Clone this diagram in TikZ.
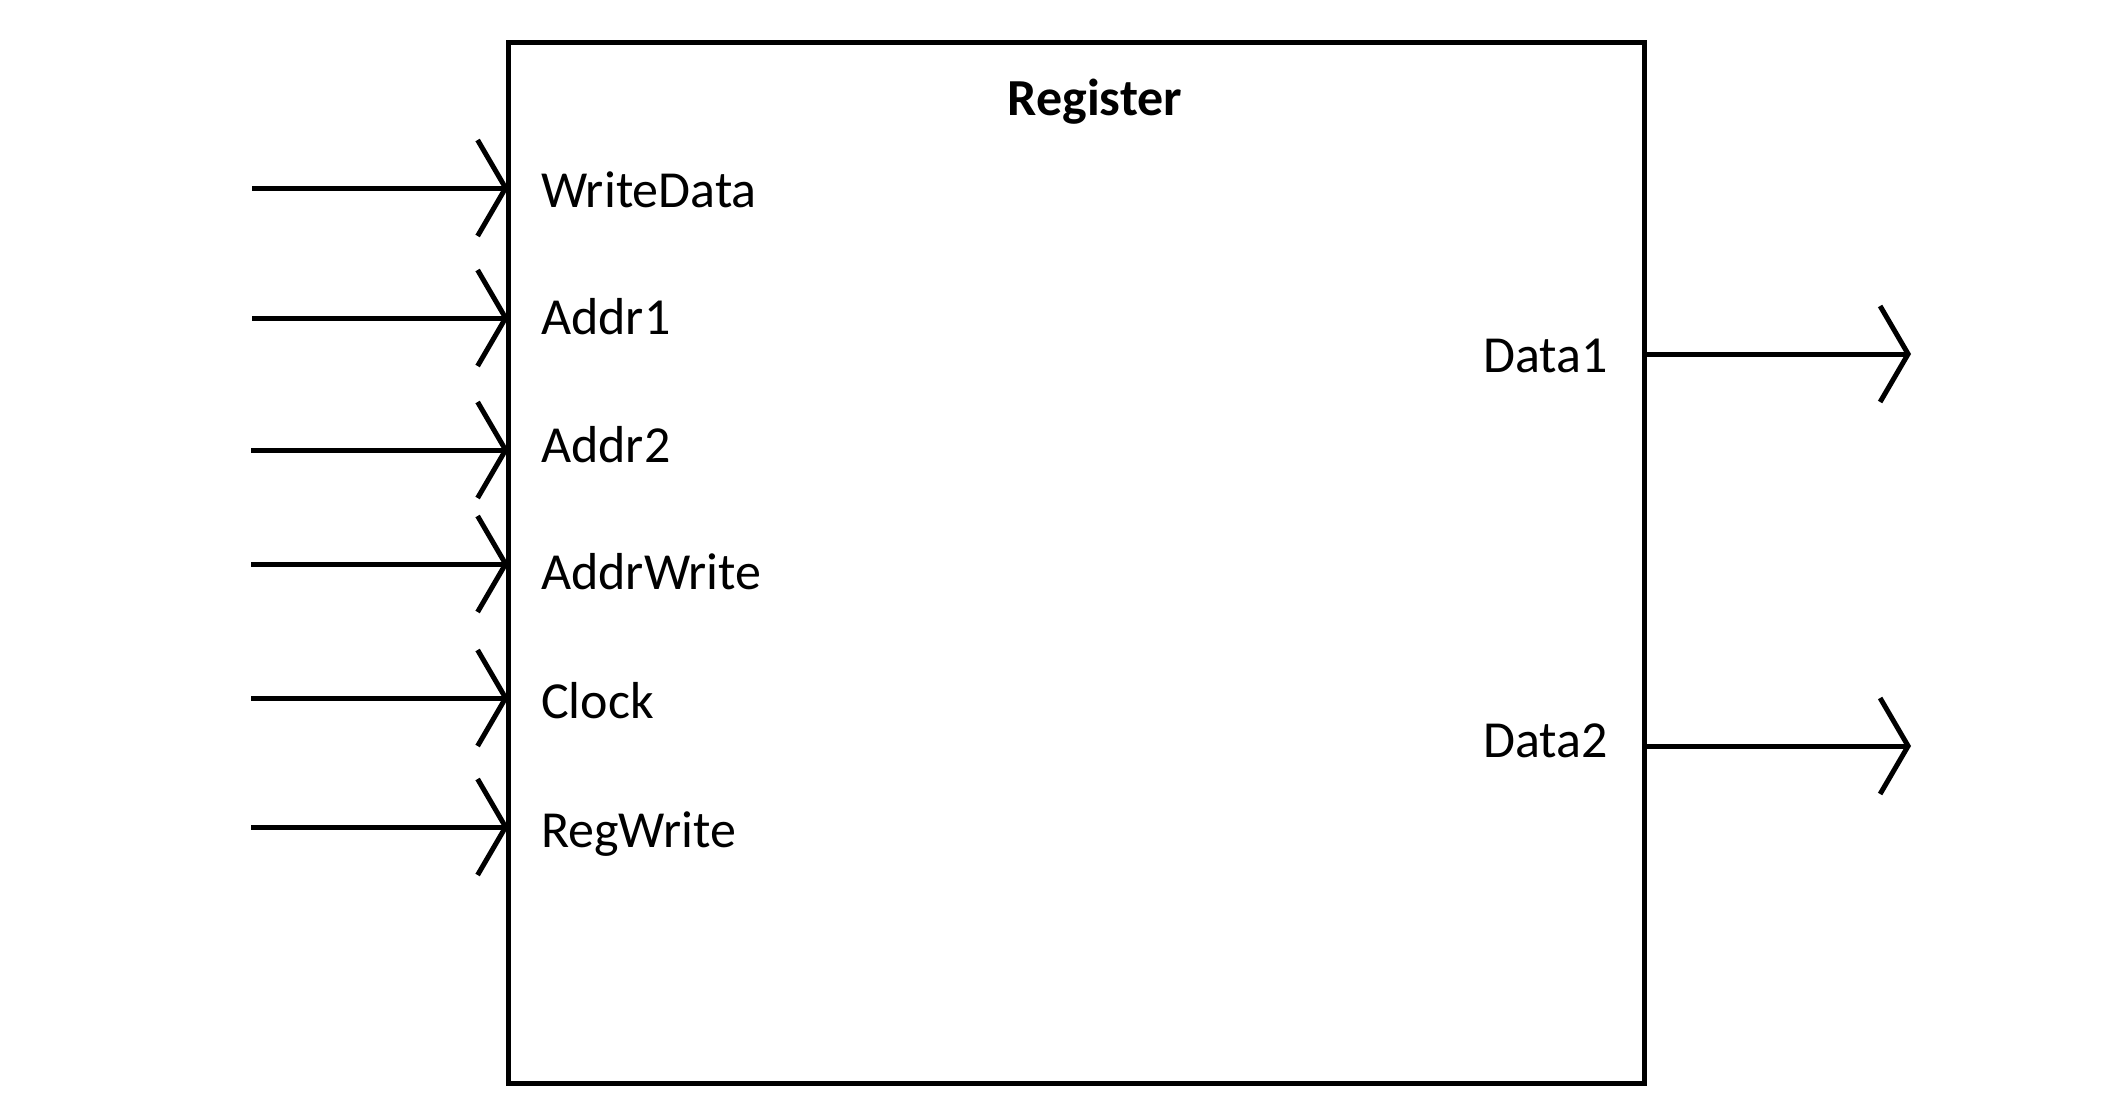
\documentclass[tikz,border=0pt]{standalone}
\usepackage{fontspec}
\setmainfont{Carlito}
\usetikzlibrary{arrows.meta}
\begin{document}
\begin{tikzpicture}[x=1pt,y=-1pt,
  regbox/.style={draw, line width=5pt, inner sep=0pt, outer sep=0pt, minimum width=1136pt, minimum height=1040pt},
  sig/.style={line width=5pt, -{Straight Barb[length=28pt,width=96pt,line width=5pt]}},
  lbl/.style={font=\fontsize{52}{62}\selectfont, inner sep=0pt},
  ttl/.style={font=\fontsize{52}{62}\selectfont\bfseries, inner sep=0pt}]
\useasboundingbox (0,0) rectangle (2104,1108);
\node[regbox] (reg) at (1076.5,563) {};
\node[ttl, anchor=base] (title) at (1095,115) {Register};
% inputs
\coordinate (i1) at (252,188);
\coordinate (i2) at (252,318);
\coordinate (i3) at (251,450);
\coordinate (i4) at (251,564);
\coordinate (i5) at (251,698);
\coordinate (i6) at (251,827);
\foreach \n in {1,...,6} \draw[sig] (i\n) -- (i\n -| reg.west);
\node[lbl, anchor=base west] (lwd) at (541,207) {WriteData};
\node[lbl, anchor=base west] (la1) at (541,334) {Addr1};
\node[lbl, anchor=base west] (la2) at (541,462) {Addr2};
\node[lbl, anchor=base west] (law) at (541,589) {AddrWrite};
\node[lbl, anchor=base west] (lck) at (541,718) {Clock};
\node[lbl, anchor=base west] (lrw) at (541,847) {RegWrite};
% outputs
\coordinate (o1) at (1911,354);
\coordinate (o2) at (1911,746);
\draw[sig] (o1 -| reg.east) -- (o1);
\draw[sig] (o2 -| reg.east) -- (o2);
\node[lbl, anchor=base east] (ld1) at (1608,372) {Data1};
\node[lbl, anchor=base east] (ld2) at (1608,757) {Data2};
\end{tikzpicture}
\end{document}
